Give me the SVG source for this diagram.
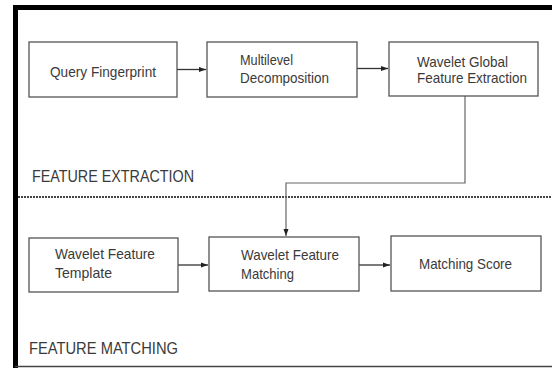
<svg xmlns="http://www.w3.org/2000/svg" width="552" height="368" viewBox="0 0 552 368">
  <style>
    .box { fill: #ffffff; stroke: #555555; stroke-width: 1.3; }
    .lbl { font-family: "Liberation Sans", Arial, sans-serif; font-size: 15px; fill: #3a3a3a; }
    .sec { font-family: "Liberation Sans", Arial, sans-serif; font-size: 16px; fill: #3a3a3a; }
    .wire { fill: none; stroke: #333333; stroke-width: 1.3; }
    .wire2 { fill: none; stroke: #666666; stroke-width: 1.2; }
  </style>
  <defs>
    <marker id="arr" markerWidth="8" markerHeight="6" refX="7" refY="3" orient="auto" markerUnits="userSpaceOnUse">
      <path d="M0,0.5 L7,3 L0,5.5 Z" fill="#222222"/>
    </marker>
  </defs>

  <!-- page background and frame -->
  <rect x="0" y="0" width="552" height="368" fill="#ffffff"/>
  <line x1="13" y1="7.5" x2="552" y2="7.5" stroke="#000000" stroke-width="5"/>
  <line x1="15.5" y1="5" x2="15.5" y2="368" stroke="#000000" stroke-width="5"/>
  <line x1="15" y1="366.5" x2="552" y2="366.5" stroke="#444444" stroke-width="1.5"/>

  <!-- section separator -->
  <line x1="18" y1="197" x2="552" y2="197" stroke="#444444" stroke-width="1.8" stroke-dasharray="2 1"/>

  <!-- section titles -->
  <text class="sec" x="32" y="182" textLength="162" lengthAdjust="spacingAndGlyphs">FEATURE EXTRACTION</text>
  <text class="sec" x="29" y="354" textLength="149" lengthAdjust="spacingAndGlyphs">FEATURE MATCHING</text>

  <!-- connectors -->
  <g id="connectors">
    <line class="wire" x1="177" y1="69.5" x2="206" y2="69.5" marker-end="url(#arr)"/>
    <line class="wire" x1="357" y1="68.5" x2="388" y2="68.5" marker-end="url(#arr)"/>
    <polyline class="wire2" points="465,96 465,183 286,183 286,236" marker-end="url(#arr)"/>
    <line class="wire" x1="178" y1="265" x2="208" y2="265" marker-end="url(#arr)"/>
    <line class="wire" x1="359" y1="265" x2="390" y2="265" marker-end="url(#arr)"/>
  </g>

  <!-- nodes -->
  <g id="query-fingerprint">
    <rect class="box" x="29" y="42" width="148" height="55"/>
    <text class="lbl" x="50" y="77" textLength="106" lengthAdjust="spacingAndGlyphs">Query Fingerprint</text>
  </g>
  <g id="multilevel-decomposition">
    <rect class="box" x="207" y="42" width="150" height="55"/>
    <text class="lbl" x="240" y="65" textLength="53" lengthAdjust="spacingAndGlyphs">Multilevel</text>
    <text class="lbl" x="240" y="83" textLength="89" lengthAdjust="spacingAndGlyphs">Decomposition</text>
  </g>
  <g id="wavelet-global-feature-extraction">
    <rect class="box" x="389" y="42" width="149" height="54"/>
    <text class="lbl" x="417" y="67" textLength="91" lengthAdjust="spacingAndGlyphs">Wavelet Global</text>
    <text class="lbl" x="417" y="83" textLength="110" lengthAdjust="spacingAndGlyphs">Feature Extraction</text>
  </g>
  <g id="wavelet-feature-template">
    <rect class="box" x="29" y="238" width="149" height="54"/>
    <text class="lbl" x="55" y="259" textLength="100" lengthAdjust="spacingAndGlyphs">Wavelet Feature</text>
    <text class="lbl" x="55" y="278" textLength="57" lengthAdjust="spacingAndGlyphs">Template</text>
  </g>
  <g id="wavelet-feature-matching">
    <rect class="box" x="209" y="237" width="150" height="54"/>
    <text class="lbl" x="241" y="260" textLength="98" lengthAdjust="spacingAndGlyphs">Wavelet Feature</text>
    <text class="lbl" x="241" y="279" textLength="53" lengthAdjust="spacingAndGlyphs">Matching</text>
  </g>
  <g id="matching-score">
    <rect class="box" x="391" y="236" width="150" height="55"/>
    <text class="lbl" x="419" y="269" textLength="93" lengthAdjust="spacingAndGlyphs">Matching Score</text>
  </g>
</svg>
